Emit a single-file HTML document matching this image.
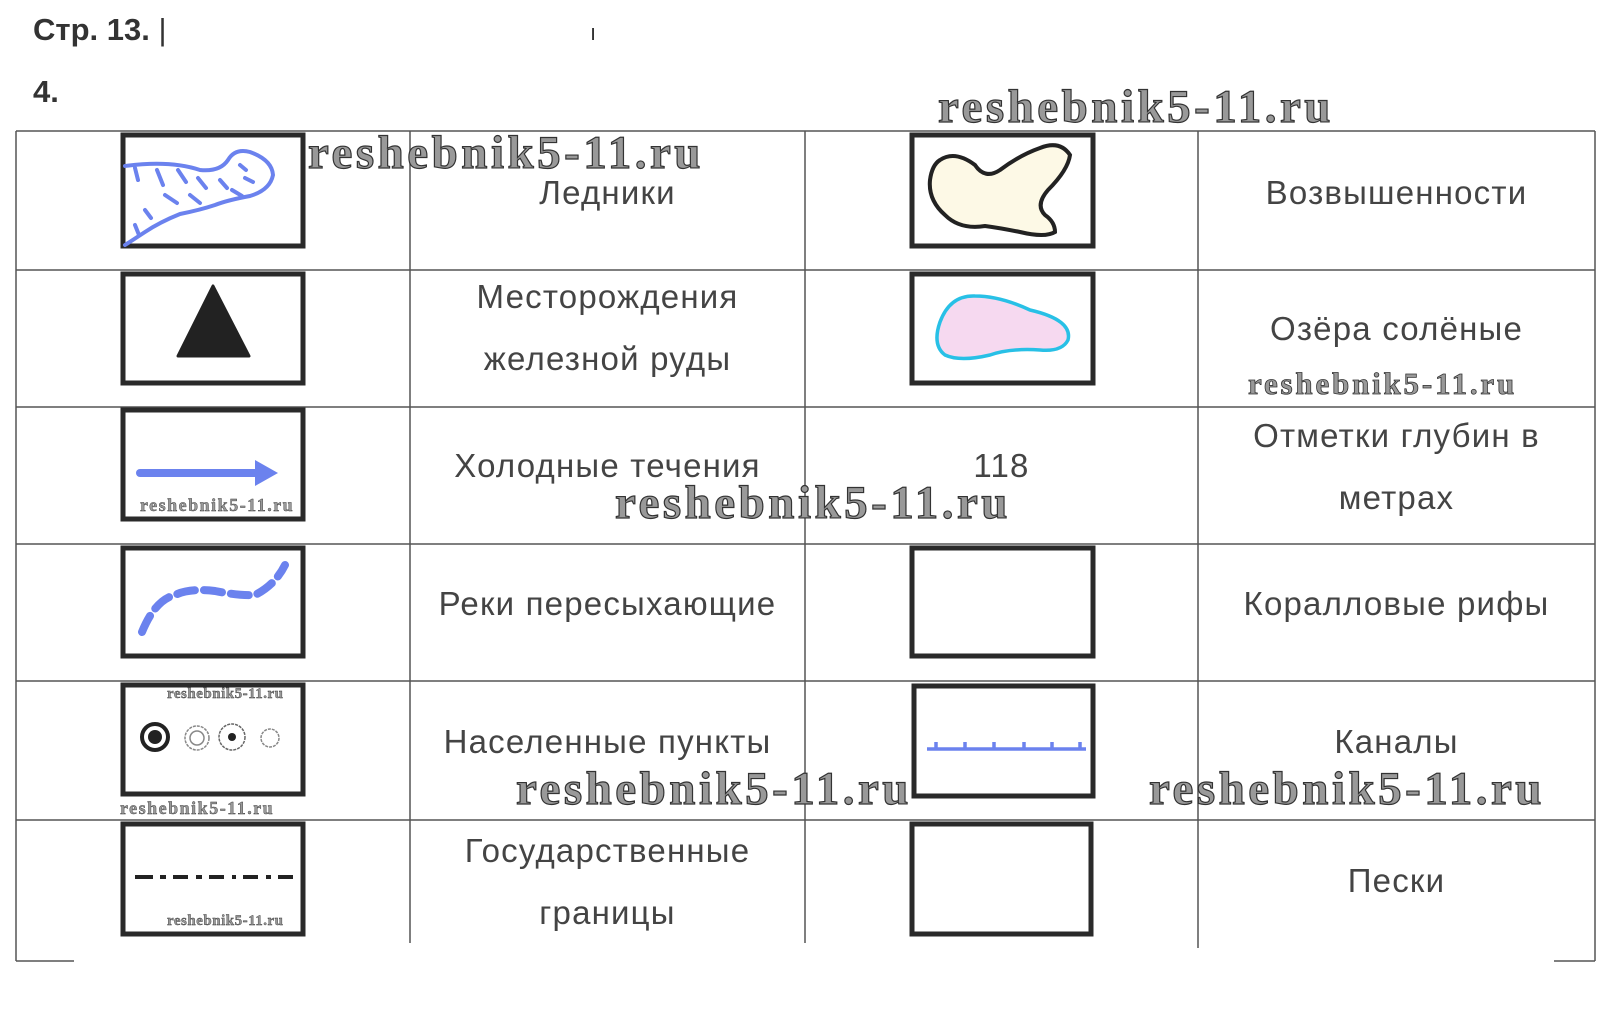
<!DOCTYPE html>
<html><head><meta charset="utf-8"><style>
body{margin:0;background:#fff;width:1608px;height:1033px;overflow:hidden;position:relative;font-family:"Liberation Sans",sans-serif}
.t{position:absolute;color:#444;font-size:33px;letter-spacing:1.2px;text-align:center;line-height:62px}
.wm{position:absolute;font-family:"Liberation Serif",serif;font-weight:bold;color:#999;-webkit-text-stroke:1.2px #333;white-space:nowrap;letter-spacing:3.5px}
</style></head><body>
<div style="position:absolute;left:33px;top:12px;font-size:31px;font-weight:bold;color:#333">Стр. 13. <span style="font-weight:normal">|</span></div>
<div style="position:absolute;left:590px;top:20px;font-size:22px;color:#333">ı</div>
<div style="position:absolute;left:33px;top:74px;font-size:31px;font-weight:bold;color:#333">4.</div>
<svg width="1608" height="1033" style="position:absolute;left:0;top:0">
<g stroke="#555" stroke-width="1.5" fill="none">
<line x1="16" y1="131" x2="1595" y2="131"/>
<line x1="16" y1="270" x2="1595" y2="270"/>
<line x1="16" y1="407" x2="1595" y2="407"/>
<line x1="16" y1="544" x2="1595" y2="544"/>
<line x1="16" y1="681" x2="1595" y2="681"/>
<line x1="16" y1="820" x2="1595" y2="820"/>
<line x1="16" y1="131" x2="16" y2="961"/>
<line x1="1595" y1="131" x2="1595" y2="961"/>
<line x1="410" y1="131" x2="410" y2="943"/>
<line x1="805" y1="131" x2="805" y2="943"/>
<line x1="1198" y1="131" x2="1198" y2="948"/>
<line x1="16" y1="961" x2="74" y2="961"/>
<line x1="1554" y1="961" x2="1595" y2="961"/>
</g>
<g stroke="#2a2a2a" stroke-width="5" fill="none">
<rect x="123" y="135" width="180" height="111"/>
<rect x="123" y="274" width="180" height="109"/>
<rect x="123" y="410" width="180" height="109"/>
<rect x="123" y="548" width="180" height="108"/>
<rect x="123" y="685" width="180" height="109"/>
<rect x="123" y="824" width="180" height="110"/>
<rect x="912" y="135" width="181" height="111"/>
<rect x="912" y="274" width="181" height="109"/>
<rect x="912" y="548" width="181" height="108"/>
<rect x="914" y="686" width="179" height="110"/>
<rect x="912" y="824" width="179" height="110"/>
</g>
<g stroke="#6b82ee" stroke-width="4" fill="none" stroke-linecap="round">
<path d="M125 166 Q170 160 200 170 Q220 172 228 160 Q235 148 250 152 Q272 160 273 175 Q270 190 250 196 Q228 200 215 205 Q200 210 180 214 Q160 222 145 232 L125 245"/>
<path d="M135 168l3 12M157 170l6 15M178 170l8 12M198 178l8 10M220 180l7 8M240 165l6 5M245 178l8 4M232 190l10 6M165 195l12 8M190 195l10 8M145 210l6 8M135 225l4 10"/>
</g>
<path d="M213 286 L249 356 L178 356 Z" fill="#222" stroke="#222" stroke-width="3" stroke-linejoin="round"/>
<line x1="140" y1="473" x2="262" y2="473" stroke="#6b82ee" stroke-width="8" stroke-linecap="round"/>
<path d="M255 460 L278 473 L255 486 Z" fill="#6b82ee"/>
<path d="M142 632 Q155 600 175 595 Q190 588 215 591 Q240 596 255 595 Q275 585 285 565" stroke="#6b82ee" stroke-width="8" fill="none" stroke-dasharray="18 9" stroke-linecap="round"/>
<circle cx="155" cy="737" r="13" fill="none" stroke="#222" stroke-width="4"/><circle cx="155" cy="737" r="7" fill="#222"/>
<circle cx="197" cy="738" r="12" fill="none" stroke="#888" stroke-width="1.5" stroke-dasharray="3 1"/><circle cx="197" cy="738" r="7" fill="none" stroke="#888" stroke-width="1.5"/>
<circle cx="232" cy="737" r="13" fill="none" stroke="#666" stroke-width="1.5" stroke-dasharray="3 1"/><circle cx="232" cy="737" r="4" fill="#222"/>
<circle cx="270" cy="738" r="9" fill="none" stroke="#888" stroke-width="1.5" stroke-dasharray="3 1"/>
<path d="M135 877h18M160 877h6M173 877h15M196 877h6M209 877h15M232 877h4M243 877h15M266 877h5M278 877h15" stroke="#222" stroke-width="4"/>
<path d="M940 160 Q955 150 975 165 Q985 180 1000 170 Q1020 155 1040 148 Q1060 140 1070 155 Q1068 170 1048 190 Q1035 205 1045 215 Q1055 222 1055 232 Q1045 238 1020 232 Q1000 228 985 226 Q960 230 945 215 Q928 200 930 180 Q932 165 940 160 Z" fill="#fdf9e6" stroke="#222" stroke-width="4"/>
<path d="M940 322 Q950 295 975 296 Q1000 296 1030 310 Q1073 320 1068 340 Q1062 352 1040 350 Q1010 348 990 355 Q960 362 945 355 Q932 345 940 322 Z" fill="#f6d9f0" stroke="#28c0e6" stroke-width="3.5"/>
<path d="M927 749 H1086 M936 749v-7M965 749v-7M994 749v-7M1024 749v-7M1052 749v-7M1080 749v-7" stroke="#6b82ee" stroke-width="3.5"/>
</svg>
<div class="t" style="left:410px;width:395px;top:162px">Ледники</div>
<div class="t" style="left:410px;width:395px;top:266px">Месторождения<br>железной руды</div>
<div class="t" style="left:410px;width:395px;top:435px">Холодные течения</div>
<div class="t" style="left:410px;width:395px;top:573px">Реки пересыхающие</div>
<div class="t" style="left:410px;width:395px;top:711px">Населенные пункты</div>
<div class="t" style="left:410px;width:395px;top:820px">Государственные<br>границы</div>
<div class="t" style="left:805px;width:393px;top:435px">118</div>
<div class="t" style="left:1198px;width:397px;top:162px">Возвышенности</div>
<div class="t" style="left:1198px;width:397px;top:298px">Озёра солёные</div>
<div class="t" style="left:1198px;width:397px;top:405px">Отметки глубин в<br>метрах</div>
<div class="t" style="left:1198px;width:397px;top:573px">Коралловые рифы</div>
<div class="t" style="left:1198px;width:397px;top:711px">Каналы</div>
<div class="t" style="left:1198px;width:397px;top:850px">Пески</div>
<div class="wm" style="left:938px;top:80px;font-size:47px">reshebnik5-11.ru</div>
<div class="wm" style="left:308px;top:126px;font-size:47px">reshebnik5-11.ru</div>
<div class="wm" style="left:1248px;top:366px;font-size:31px;-webkit-text-stroke:0.8px #333;letter-spacing:2.8px">reshebnik5-11.ru</div>
<div class="wm" style="left:615px;top:476px;font-size:47px">reshebnik5-11.ru</div>
<div class="wm" style="left:516px;top:762px;font-size:47px">reshebnik5-11.ru</div>
<div class="wm" style="left:1149px;top:762px;font-size:47px">reshebnik5-11.ru</div>
<div class="wm" style="left:140px;top:495px;font-size:18px;-webkit-text-stroke:0.4px #333;letter-spacing:1.5px">reshebnik5-11.ru</div>
<div class="wm" style="left:167px;top:686px;font-size:15px;-webkit-text-stroke:0.4px #333;letter-spacing:0.5px">reshebnik5-11.ru</div>
<div class="wm" style="left:120px;top:798px;font-size:18px;-webkit-text-stroke:0.4px #333;letter-spacing:1.5px">reshebnik5-11.ru</div>
<div class="wm" style="left:167px;top:913px;font-size:15px;-webkit-text-stroke:0.4px #333;letter-spacing:0.5px">reshebnik5-11.ru</div>
</body></html>
